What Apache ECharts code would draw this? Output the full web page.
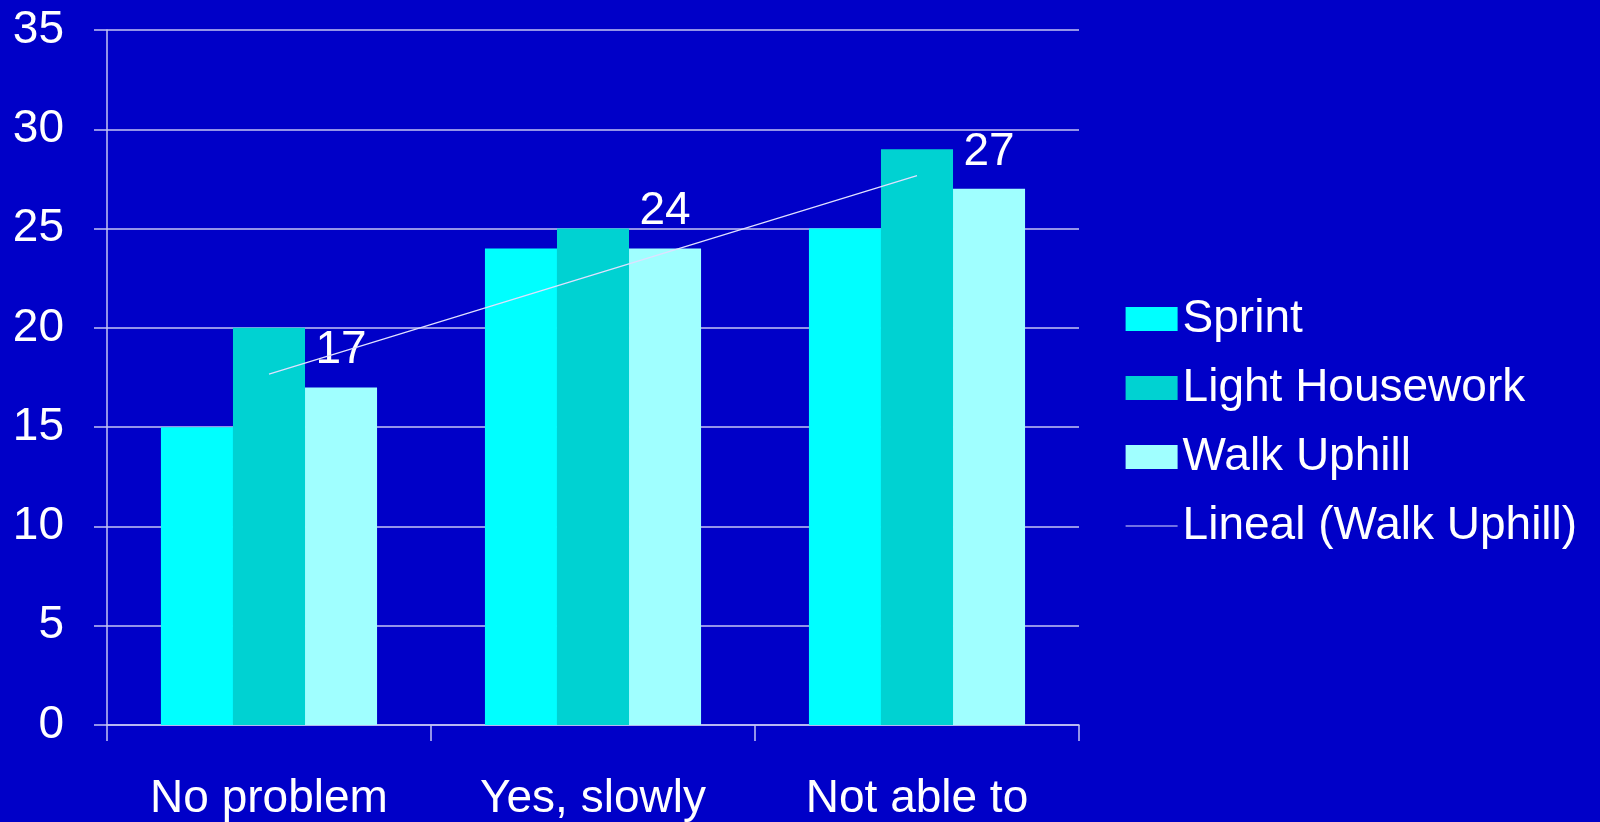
<!DOCTYPE html>
<html>
<head>
<meta charset="utf-8">
<script src="https://cdn.jsdelivr.net/npm/echarts@6/dist/echarts.min.js"></script>
<style>
  html, body { margin: 0; padding: 0; background: #0000C8; }
  #chart { width: 1600px; height: 822px; }
</style>
</head>
<body>
<div id="chart"></div>
<script>
// Categories and series values
const categories = ['No problem', 'Yes, slowly', 'Not able to'];
const sprint = [15, 24, 25];
const lightHousework = [20, 25, 29];
const walkUphill = [17, 24, 27];
const yTicks = { min: 0, max: 35, interval: 5 };

// Least-squares linear trend of the Walk Uphill series
function linearTrend(values) {
  const n = values.length;
  const xs = values.map((_, i) => i + 1);
  const mx = xs.reduce((a, b) => a + b, 0) / n;
  const my = values.reduce((a, b) => a + b, 0) / n;
  let num = 0, den = 0;
  for (let i = 0; i < n; i++) {
    num += (xs[i] - mx) * (values[i] - my);
    den += (xs[i] - mx) * (xs[i] - mx);
  }
  const slope = num / den;
  return xs.map(x => +(my + slope * (x - mx)).toFixed(3));
}
const walkTrend = linearTrend(walkUphill);

const FONT = '"Liberation Sans", Arial, sans-serif';
const LINE = '#c4c4f4';
const TREND = '#e0e0ff';
const CLEAR = 'rgba(0,0,0,0)';

const chart = echarts.init(document.getElementById('chart'));
chart.setOption({
  backgroundColor: '#0000C8',
  animation: false,
  textStyle: { fontFamily: FONT },
  grid: { left: 107, right: 521, top: 30, bottom: 94, containLabel: false },
  legend: {
    orient: 'vertical',
    left: 1120,
    top: 291,
    itemWidth: 52,
    itemHeight: 24,
    itemGap: 23,
    itemTextGap: 4,
    textStyle: { color: '#ffffff', fontSize: 46, fontFamily: FONT, lineHeight: 46 },
    data: [
      { name: 'Sprint', icon: 'rect' },
      { name: 'Light Housework', icon: 'rect' },
      { name: 'Walk Uphill', icon: 'rect' },
      {
        name: 'Lineal (Walk Uphill)',
        itemStyle: { color: CLEAR, borderColor: CLEAR, borderWidth: 0 },
        lineStyle: { color: TREND, width: 1.2 }
      }
    ]
  },
  xAxis: {
    type: 'category',
    data: categories,
    axisLine: { lineStyle: { color: LINE, width: 1.5 } },
    axisTick: { show: true, length: 16, lineStyle: { color: LINE, width: 1.5 } },
    axisLabel: { color: '#ffffff', fontSize: 46, fontFamily: FONT, margin: 51 }
  },
  yAxis: {
    type: 'value',
    min: yTicks.min,
    max: yTicks.max,
    interval: yTicks.interval,
    axisLine: { show: true, lineStyle: { color: LINE, width: 1.5 } },
    axisTick: { show: true, length: 13, lineStyle: { color: LINE, width: 1.5 } },
    axisLabel: { color: '#ffffff', fontSize: 46, fontFamily: FONT, margin: 43 },
    splitLine: { show: true, lineStyle: { color: LINE, width: 1.5 } }
  },
  series: [
    {
      name: 'Sprint', type: 'bar', data: sprint,
      barGap: '0%', barCategoryGap: '33.3%',
      itemStyle: { color: '#00FFFF' }
    },
    {
      name: 'Light Housework', type: 'bar', data: lightHousework,
      barGap: '0%', barCategoryGap: '33.3%',
      itemStyle: { color: '#00D2D2' }
    },
    {
      name: 'Walk Uphill', type: 'bar', data: walkUphill,
      barGap: '0%', barCategoryGap: '33.3%',
      itemStyle: { color: '#A0FFFF' },
      label: {
        show: true, position: 'top', distance: 14,
        color: '#ffffff', fontSize: 46, fontFamily: FONT
      }
    },
    {
      name: 'Lineal (Walk Uphill)', type: 'line', data: walkTrend,
      symbol: 'none', showSymbol: false,
      lineStyle: { color: TREND, width: 1.2 },
      itemStyle: { color: TREND },
      z: 5
    }
  ]
});
</script>
</body>
</html>
